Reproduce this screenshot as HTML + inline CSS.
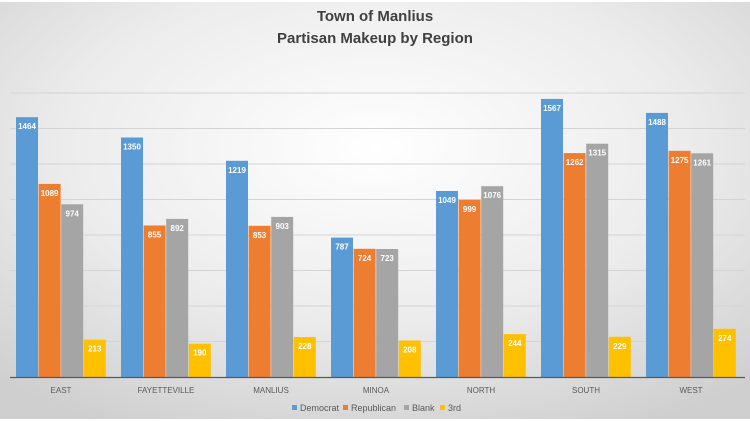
<!DOCTYPE html>
<html><head><meta charset="utf-8"><style>
html,body{margin:0;padding:0;width:750px;height:421px;overflow:hidden}
svg{display:block;font-family:"Liberation Sans",sans-serif}
.v{font-size:8px;font-weight:bold;fill:#fff;text-anchor:middle}
.b{fill:#5b9bd5}.o{fill:#ed7d31}.g{fill:#a5a5a5}.y{fill:#ffc000}
</style></head><body>
<svg width="750" height="421" viewBox="0 0 750 421">
<defs>
<radialGradient id="bg" cx="50%" cy="35%" r="75%">
<stop offset="0" stop-color="#ffffff"/>
<stop offset="0.55" stop-color="#ececec"/>
<stop offset="1" stop-color="#cfcfcf"/>
</radialGradient>
</defs>
<rect x="0" y="0" width="750" height="421" fill="#fff"/>
<rect x="0" y="2" width="750" height="417" fill="url(#bg)"/>
<text x="375" y="21" text-anchor="middle" font-size="15" font-weight="bold" fill="#404040">Town of Manlius</text>
<text x="375" y="43" text-anchor="middle" font-size="15" font-weight="bold" fill="#404040">Partisan  Makeup by Region</text>
<g stroke="#d4d4d4" stroke-width="1">
<line x1="10" x2="745" y1="93" y2="93"/><line x1="10" x2="745" y1="128.5" y2="128.5"/>
<line x1="10" x2="745" y1="164" y2="164"/><line x1="10" x2="745" y1="199.5" y2="199.5"/>
<line x1="10" x2="745" y1="235" y2="235"/><line x1="10" x2="745" y1="270.5" y2="270.5"/>
<line x1="10" x2="745" y1="306" y2="306"/><line x1="10" x2="745" y1="341.5" y2="341.5"/>
</g>
<g>
<rect class="b" x="16" y="117.2" width="22" height="260.3"/><text class="v" x="27" y="129.2">1464</text>
<rect class="o" x="38.6" y="183.9" width="22" height="193.6"/><text class="v" x="49.6" y="195.9">1089</text>
<rect class="g" x="61.2" y="204.3" width="22" height="173.2"/><text class="v" x="72.2" y="216.3">974</text>
<rect class="y" x="83.8" y="339.6" width="22" height="37.9"/><text class="v" x="94.8" y="351.6">213</text>

<rect class="b" x="121" y="137.5" width="22" height="240"/><text class="v" x="132" y="149.5">1350</text>
<rect class="o" x="143.6" y="225.5" width="22" height="152"/><text class="v" x="154.6" y="237.5">855</text>
<rect class="g" x="166.2" y="218.9" width="22" height="158.6"/><text class="v" x="177.2" y="230.9">892</text>
<rect class="y" x="188.8" y="343.7" width="22" height="33.8"/><text class="v" x="199.8" y="355.7">190</text>

<rect class="b" x="226" y="160.8" width="22" height="216.7"/><text class="v" x="237" y="172.8">1219</text>
<rect class="o" x="248.6" y="225.8" width="22" height="151.7"/><text class="v" x="259.6" y="237.8">853</text>
<rect class="g" x="271.2" y="216.9" width="22" height="160.6"/><text class="v" x="282.2" y="228.9">903</text>
<rect class="y" x="293.8" y="337" width="22" height="40.5"/><text class="v" x="304.8" y="349">228</text>

<rect class="b" x="331" y="237.6" width="22" height="139.9"/><text class="v" x="342" y="249.6">787</text>
<rect class="o" x="353.6" y="248.8" width="22" height="128.7"/><text class="v" x="364.6" y="260.8">724</text>
<rect class="g" x="376.2" y="249" width="22" height="128.5"/><text class="v" x="387.2" y="261">723</text>
<rect class="y" x="398.8" y="340.5" width="22" height="37"/><text class="v" x="409.8" y="352.5">208</text>

<rect class="b" x="436" y="191" width="22" height="186.5"/><text class="v" x="447" y="203">1049</text>
<rect class="o" x="458.6" y="199.9" width="22" height="177.6"/><text class="v" x="469.6" y="211.9">999</text>
<rect class="g" x="481.2" y="186.2" width="22" height="191.3"/><text class="v" x="492.2" y="198.2">1076</text>
<rect class="y" x="503.8" y="334.1" width="22" height="43.4"/><text class="v" x="514.8" y="346.1">244</text>

<rect class="b" x="541" y="98.9" width="22" height="278.6"/><text class="v" x="552" y="110.9">1567</text>
<rect class="o" x="563.6" y="153.1" width="22" height="224.4"/><text class="v" x="574.6" y="165.1">1262</text>
<rect class="g" x="586.2" y="143.7" width="22" height="233.8"/><text class="v" x="597.2" y="155.7">1315</text>
<rect class="y" x="608.8" y="336.8" width="22" height="40.7"/><text class="v" x="619.8" y="348.8">229</text>

<rect class="b" x="646" y="112.9" width="22" height="264.6"/><text class="v" x="657" y="124.9">1488</text>
<rect class="o" x="668.6" y="150.8" width="22" height="226.7"/><text class="v" x="679.6" y="162.8">1275</text>
<rect class="g" x="691.2" y="153.3" width="22" height="224.2"/><text class="v" x="702.2" y="165.3">1261</text>
<rect class="y" x="713.8" y="328.8" width="22" height="48.7"/><text class="v" x="724.8" y="340.8">274</text>
</g>
<line x1="10" x2="745" y1="377.5" y2="377.5" stroke="#595959" stroke-width="1.2"/>
<g font-size="8" fill="#595959" text-anchor="middle">
<text x="61" y="393">EAST</text><text x="166" y="393">FAYETTEVILLE</text>
<text x="271" y="393">MANLIUS</text><text x="376" y="393">MINOA</text>
<text x="481" y="393">NORTH</text><text x="586" y="393">SOUTH</text>
<text x="691" y="393">WEST</text>
</g>
<g font-size="9" fill="#595959">
<rect x="292" y="405" width="5" height="5" fill="#5b9bd5"/><text x="300" y="411">Democrat</text>
<rect x="343" y="405" width="5" height="5" fill="#ed7d31"/><text x="351" y="411">Republican</text>
<rect x="404" y="405" width="5" height="5" fill="#a5a5a5"/><text x="412" y="411">Blank</text>
<rect x="440" y="405" width="5" height="5" fill="#ffc000"/><text x="448" y="411">3rd</text>
</g>
</svg>
</body></html>
